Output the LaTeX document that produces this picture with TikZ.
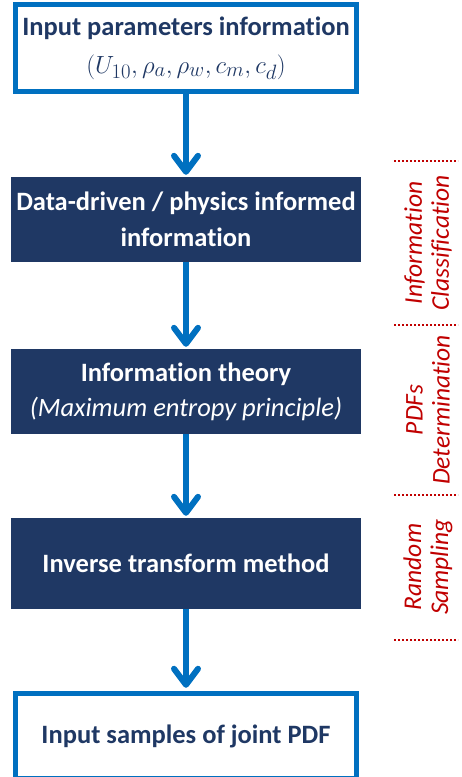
\documentclass[tikz,border=0pt]{standalone}
\usepackage{fontspec}
\setmainfont[Ligatures=NoCommon]{Carlito}
\usetikzlibrary{arrows.meta,positioning}
\definecolor{bblue}{HTML}{0070C0}
\definecolor{navy}{HTML}{1F3864}
\definecolor{dred}{HTML}{C00000}
\tikzset{
  outbox/.style={draw=bblue, line width=5.5pt, fill=white, text=navy, align=center, inner sep=0pt, font=\fontsize{26.5}{38}\selectfont\bfseries},
  darkbox/.style={fill=navy, text=white, align=center, inner sep=0pt, font=\fontsize{26.5}{36}\selectfont\bfseries},
  flow/.style={draw=bblue, line width=6pt, -{Straight Barb[length=16pt,width=24pt,line cap=round,line join=round]}},
  sep/.style={draw=dred, line width=2pt, dotted},
  phase/.style={text=dred, align=center, rotate=90, font=\fontsize{25.5}{27}\selectfont\itshape}
}
\begin{document}
\begin{tikzpicture}[x=1pt,y=1pt]
\useasboundingbox (0,0) rectangle (462,-777);
\node[outbox, minimum width=341pt, minimum height=87pt] (b1) at (186,-48) {Input parameters information\\{\mdseries\fontsize{28.5}{38}\selectfont$(U_{10},\rho_a,\rho_w,c_m,c_d)$}};
\node[darkbox, minimum width=350pt, minimum height=85pt] (b2) at (186,-219.5) {Data-driven / physics informed\\information};
\node[darkbox, minimum width=350pt, minimum height=85pt, text depth=3pt] (b3) at (186,-391.5) {Information theory\\[-1pt]{\mdseries\itshape (Maximum entropy principle)}};
\node[darkbox, minimum width=350pt, minimum height=91pt] (b4) at (186,-563.5) {Inverse transform method};
\node[outbox, minimum width=341pt, minimum height=85pt] (b5) at (186,-736) {Input samples of joint PDF};
\draw[flow] (b1.south) -- ([yshift=2pt]b2.north);
\draw[flow] (b2.south) -- ([yshift=2pt]b3.north);
\draw[flow] (b3.south) -- ([yshift=2pt]b4.north);
\draw[flow] (b4.south) -- ([yshift=3pt]b5.north);
\coordinate (s1a) at (394,-161); \coordinate (s1b) at (458,-161);
\coordinate (s2a) at (394,-325); \coordinate (s2b) at (458,-325);
\coordinate (s3a) at (394,-495); \coordinate (s3b) at (458,-495);
\coordinate (s4a) at (394,-640); \coordinate (s4b) at (458,-640);
\draw[sep] (s1a) -- (s1b);
\draw[sep] (s2a) -- (s2b);
\draw[sep] (s3a) -- (s3b);
\draw[sep] (s4a) -- (s4b);
\node[phase] (p1) at (428,-243) {Information\\Classification};
\node[phase] (p2) at (428,-410) {PDFs\\Determination};
\node[phase] (p3) at (428,-567) {Random\\Sampling};
\end{tikzpicture}
\end{document}
